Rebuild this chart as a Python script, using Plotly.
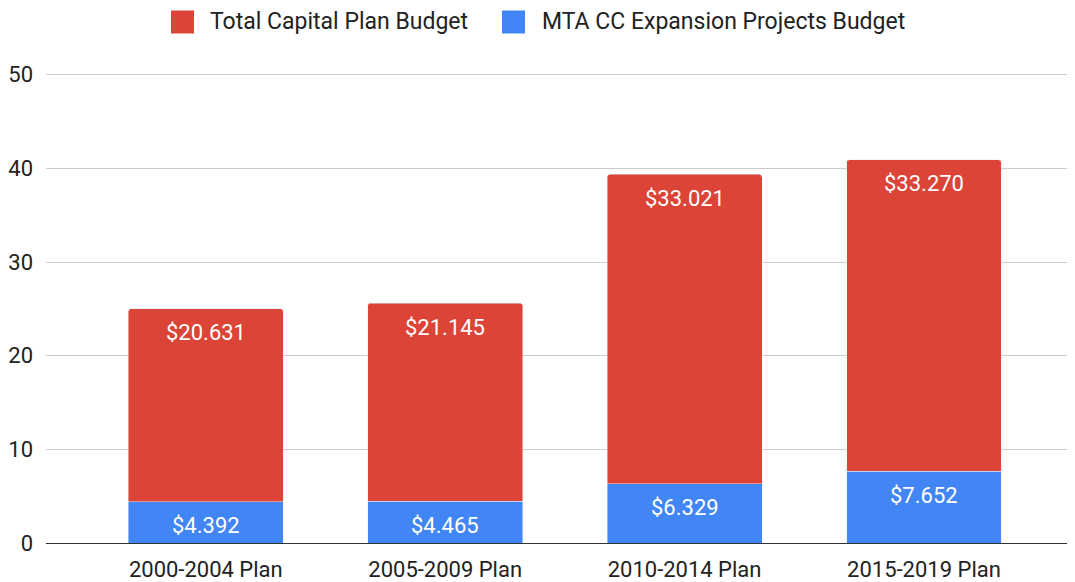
import plotly.graph_objects as go

categories = ["2000-2004 Plan", "2005-2009 Plan", "2010-2014 Plan", "2015-2019 Plan"]
mta_cc = [4.392, 4.465, 6.329, 7.652]
total_capital = [20.631, 21.145, 33.021, 33.270]
y_ticks = [0, 10, 20, 30, 40, 50]
series_names = ["Total Capital Plan Budget", "MTA CC Expansion Projects Budget"]

RED = "#DB4437"
BLUE = "#4285F4"
FONT = "Roboto, Arial, sans-serif"
TXT = "#222222"

# page has an 8px body margin, so the figure is sized to end at the window edge
OFF = 8
W, H = 1075 - OFF, 582 - OFF
ML, MR, MT, MB = 38, 0, 62, 39
PW, PH = W - ML - MR, H - MT - MB


def px_x(px):
    return (px - OFF - ML) / PW


def px_y(py):
    return (H - MB - (py - OFF)) / PH


fig = go.Figure()
fig.add_trace(go.Bar(
    x=categories, y=mta_cc, name=series_names[1],
    marker_color=BLUE, showlegend=False,
))
fig.add_trace(go.Bar(
    x=categories, y=total_capital, name=series_names[0],
    marker_color=RED, showlegend=False,
))

# value labels, placed just inside the top end of each segment
for c, b, r in zip(categories, mta_cc, total_capital):
    fig.add_annotation(x=c, y=b, text=f"${b:.3f}", showarrow=False,
                       yanchor="middle", yshift=-24,
                       font=dict(color="white", size=22, family=FONT))
    fig.add_annotation(x=c, y=b + r, text=f"${r:.3f}", showarrow=False,
                       yanchor="middle", yshift=-24,
                       font=dict(color="white", size=22, family=FONT))

# legend (drawn to match the reference's large square swatches)
legend_items = [(series_names[0], RED, 171, 208), (series_names[1], BLUE, 502, 540)]
for name, col, sq_x, tx in legend_items:
    fig.add_shape(type="rect", xref="paper", yref="paper",
                  x0=px_x(sq_x), x1=px_x(sq_x + 23), y0=px_y(33.5), y1=px_y(10.5),
                  fillcolor=col, line=dict(width=0), layer="above")
    fig.add_annotation(xref="paper", yref="paper", x=px_x(tx), y=px_y(22),
                       xanchor="left", yanchor="middle", text=name, showarrow=False,
                       font=dict(size=23, color=TXT, family=FONT))

fig.update_layout(
    width=W, height=H,
    barmode="stack", bargap=0.353, barcornerradius=3,
    plot_bgcolor="white", paper_bgcolor="white",
    margin=dict(l=ML, r=MR, t=MT, b=MB, autoexpand=False),
    font=dict(family=FONT, size=22, color=TXT),
    showlegend=False,
    xaxis=dict(type="category", range=[-0.6675, 3.631], showgrid=False,
               showline=False, ticks="", tickfont=dict(size=22, color=TXT),
               ticklabelstandoff=11, automargin=False),
    yaxis=dict(range=[0, 50.5], tickvals=y_ticks, showgrid=True, gridcolor="#cccccc",
               gridwidth=1, zeroline=True, zerolinecolor="#333333", zerolinewidth=1,
               showline=False, ticks="", tickfont=dict(size=22, color=TXT),
               ticklabelstandoff=12, automargin=False),
)

fig.write_html("out.html")
